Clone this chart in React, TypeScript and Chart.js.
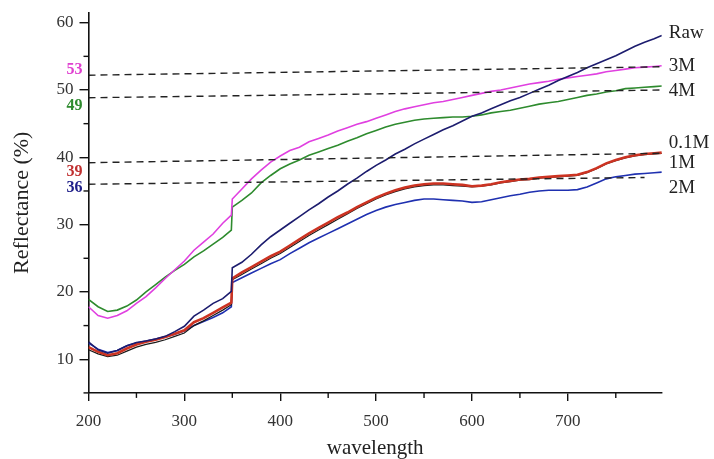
import React, { useEffect, useRef } from "react";
import { Chart, registerables } from "chart.js";

Chart.register(...registerables);

const wavelengths = [200,210,220,230,240,250,260,270,280,290,300,310,320,330,340,349,350,360,370,380,390,400,410,420,430,440,450,460,470,480,490,500,510,520,530,540,550,560,570,580,590,600,610,620,630,640,650,660,670,680,690,700,710,720,730,740,750,760,770,780,790,798];

const rawValues = [12.6,11.4,10.9,11.3,12.0,12.5,12.7,13.0,13.4,14.1,14.9,16.4,17.3,18.3,19.0,20.1,23.6,24.4,25.6,27.0,28.2,29.2,30.2,31.2,32.2,33.1,34.1,35.0,36.0,36.9,37.9,38.8,39.6,40.5,41.2,42.0,42.7,43.4,44.1,44.7,45.4,46.1,46.6,47.2,47.8,48.4,48.9,49.5,50.1,50.7,51.4,52.0,52.6,53.3,53.9,54.5,55.1,55.8,56.5,57.1,57.6,58.1];

const m3Values = [17.8,16.5,16.1,16.5,17.2,18.3,19.3,20.6,22.0,23.3,24.6,26.2,27.4,28.6,30.2,31.4,33.8,35.3,36.8,38.1,39.3,40.2,41.0,41.5,42.3,42.8,43.3,43.9,44.4,44.9,45.3,45.8,46.3,46.8,47.2,47.5,47.8,48.1,48.3,48.6,48.9,49.2,49.5,49.8,50.0,50.3,50.6,50.9,51.1,51.3,51.6,51.8,52.0,52.2,52.4,52.7,52.9,53.1,53.3,53.4,53.5,53.6];

const m4Values = [18.9,17.8,17.1,17.3,17.9,18.8,20.0,21.1,22.2,23.2,24.1,25.2,26.1,27.1,28.1,29.2,32.6,33.6,34.7,36.2,37.3,38.3,39.0,39.6,40.3,40.8,41.3,41.8,42.4,42.9,43.5,44.0,44.5,44.9,45.2,45.5,45.7,45.8,45.9,46.0,46.0,46.1,46.3,46.6,46.8,47.0,47.3,47.6,47.9,48.1,48.3,48.6,48.9,49.2,49.4,49.7,49.9,50.2,50.3,50.4,50.5,50.6];

const m01Values = [11.8,11.1,10.6,10.9,11.6,12.2,12.6,12.9,13.3,13.8,14.3,15.5,16.1,16.9,17.7,18.4,22.0,22.9,23.7,24.5,25.3,26.0,26.9,27.8,28.7,29.5,30.3,31.1,31.8,32.6,33.3,34.0,34.6,35.1,35.5,35.8,36.0,36.1,36.1,36.0,35.9,35.7,35.8,36.0,36.3,36.5,36.7,36.8,37.0,37.1,37.2,37.3,37.4,37.8,38.4,39.1,39.6,40.0,40.3,40.5,40.6,40.7];

const m1Values = [11.4,10.8,10.4,10.6,11.2,11.8,12.2,12.5,12.9,13.4,13.9,15.0,15.7,16.5,17.3,18.1,21.8,22.6,23.4,24.2,25.0,25.7,26.6,27.5,28.4,29.2,30.0,30.8,31.6,32.4,33.1,33.8,34.4,34.9,35.3,35.6,35.8,35.9,35.9,35.8,35.7,35.6,35.7,35.9,36.2,36.4,36.6,36.7,36.9,37.0,37.1,37.2,37.3,37.7,38.3,39.0,39.5,39.9,40.2,40.4,40.5,40.6];

const m2Values = [12.4,11.5,11.0,11.3,12.0,12.4,12.7,13.0,13.3,13.7,14.2,15.0,15.6,16.2,16.9,17.8,21.4,22.1,22.8,23.5,24.2,24.8,25.7,26.5,27.3,28.0,28.7,29.4,30.1,30.8,31.5,32.1,32.6,33.0,33.3,33.6,33.8,33.8,33.7,33.6,33.5,33.3,33.4,33.7,34.0,34.3,34.5,34.8,35.0,35.1,35.1,35.1,35.2,35.6,36.2,36.8,37.1,37.3,37.5,37.6,37.7,37.8];

const seriesNames = ["Raw", "3M", "4M", "0.1M", "1M", "2M"];
const seriesColors = ["#1c1c6e", "#e040e0", "#2e8b2e", "#cc3322", "#1a1a1a", "#1f30b0"];
const seriesWidths = [1.6, 1.6, 1.6, 2.6, 1.2, 1.6];

// dashed reference lines: [x0, y0, x1, y1]
const dashStartX = [200, 200, 200, 200];
const dashStartY = [52.2, 48.85, 39.2, 36.0];
const dashEndX = [798, 798, 798, 780];
const dashEndY = [53.45, 50.0, 40.6, 37.0];

// left annotation numbers
const leftLabels = ["53", "49", "39", "36"];
const leftLabelY = [53.0, 47.6, 37.9, 35.4];
const leftLabelColors = ["#e040d0", "#2e8b2e", "#c03030", "#20208a"];

// right series labels
const rightLabelY = [58.4, 53.6, 49.9, 42.1, 39.1, 35.4];

const yMajorTicks = [10, 20, 30, 40, 50, 60];
const yMinorTicks = [5, 15, 25, 35, 45, 55];
const xMajorTicks = [200, 300, 400, 500, 600, 700];
const xMinorTicks = [250, 350, 450, 550, 650, 750];

const SERIF = "'Liberation Serif', 'Times New Roman', serif";

export default function App() {
  const ref = useRef<HTMLCanvasElement | null>(null);

  useEffect(() => {
    const canvas = ref.current;
    if (!canvas) return;

    const curveSets = seriesNames.map((name, i) => {
      const vals = [rawValues, m3Values, m4Values, m01Values, m1Values, m2Values][i];
      return {
        label: name,
        data: wavelengths.map((w, k) => ({ x: w, y: vals[k] })),
        borderColor: seriesColors[i],
        backgroundColor: seriesColors[i],
        borderWidth: seriesWidths[i],
        pointRadius: 0,
        tension: 0,
        fill: false,
        order: 2,
      };
    });
    const dashSets = dashStartY.map((y0, i) => ({
      label: "dash" + i,
      data: [
        { x: dashStartX[i], y: y0 },
        { x: dashEndX[i], y: dashEndY[i] },
      ],
      borderColor: "#222",
      borderWidth: 1.4,
      borderDash: [7, 5],
      pointRadius: 0,
      fill: false,
      order: 1,
    }));

    const annot = {
      id: "annot",
      afterDatasetsDraw(chart: any) {
        const { ctx, chartArea, scales } = chart;
        const xs = scales.x;
        const ys = scales.y;
        ctx.save();
        ctx.strokeStyle = "#111";
        ctx.lineWidth = 1.4;
        // minor ticks
        yMinorTicks.forEach((v) => {
          const py = ys.getPixelForValue(v);
          ctx.beginPath();
          ctx.moveTo(chartArea.left - 5, py);
          ctx.lineTo(chartArea.left, py);
          ctx.stroke();
        });
        xMinorTicks.forEach((v) => {
          const px = xs.getPixelForValue(v);
          ctx.beginPath();
          ctx.moveTo(px, chartArea.bottom);
          ctx.lineTo(px, chartArea.bottom + 5);
          ctx.stroke();
        });
        // right labels
        ctx.font = `19px ${SERIF}`;
        ctx.fillStyle = "#222";
        ctx.textAlign = "left";
        ctx.textBaseline = "middle";
        seriesNames.forEach((n, i) => {
          ctx.fillText(n, chartArea.right + 7, ys.getPixelForValue(rightLabelY[i]));
        });
        // left labels
        ctx.font = `bold 16px ${SERIF}`;
        ctx.textAlign = "right";
        leftLabels.forEach((t, i) => {
          ctx.fillStyle = leftLabelColors[i];
          ctx.fillText(t, chartArea.left - 6, ys.getPixelForValue(leftLabelY[i]));
        });
        ctx.restore();
      },
    };

    const chart = new Chart(canvas, {
      type: "line",
      data: { datasets: [...dashSets, ...curveSets] as any },
      options: {
        animation: false,
        responsive: false,
        devicePixelRatio: 1,
        parsing: false as any,
        layout: { padding: { top: 12.6, right: 52.2, left: 0, bottom: 0 } },
        plugins: { legend: { display: false }, tooltip: { enabled: false } },
        scales: {
          x: {
            type: "linear",
            min: 200,
            max: 798,
            afterBuildTicks: (s: any) => {
              s.ticks = xMajorTicks.map((v) => ({ value: v }));
            },
            afterFit: (s: any) => {
              s.height = 459 - 392.9;
              s.paddingLeft = 0;
              s.paddingRight = 0;
            },
            grid: { drawOnChartArea: false, drawTicks: true, tickLength: 8, color: "#111", lineWidth: 1.4 },
            border: { display: true, color: "#111", width: 1.6 },
            ticks: {
              color: "#333",
              font: { family: SERIF, size: 17 },
              padding: 10,
              maxRotation: 0,
              autoSkip: false,
              callback: (v: any) => String(v),
            },
            title: {
              display: true,
              text: "wavelength",
              color: "#222",
              font: { family: SERIF, size: 21, lineHeight: 1 },
              padding: { top: 0, bottom: 0 },
            },
          },
          y: {
            type: "linear",
            min: 5,
            max: 61.5,
            afterBuildTicks: (s: any) => {
              s.ticks = yMajorTicks.map((v) => ({ value: v }));
            },
            afterFit: (s: any) => {
              s.width = 88.5;
              s.paddingTop = 0;
              s.paddingBottom = 0;
            },
            grid: { drawOnChartArea: false, drawTicks: true, tickLength: 9, color: "#111", lineWidth: 1.4 },
            border: { display: true, color: "#111", width: 1.6 },
            ticks: {
              color: "#333",
              font: { family: SERIF, size: 17 },
              padding: 6,
              autoSkip: false,
              callback: (v: any) => String(v),
            },
            title: {
              display: true,
              text: "Reflectance (%)",
              color: "#222",
              font: { family: SERIF, size: 22, lineHeight: 1.2 },
              padding: { top: 9, bottom: 0 },
            },
          },
        },
      },
      plugins: [annot],
    });

    return () => chart.destroy();
  }, []);

  return (
    <div style={{ position: "fixed", left: 0, top: 0, width: 714, height: 459, background: "#fff" }}>
      <canvas ref={ref} width={714} height={459} style={{ width: 714, height: 459, display: "block" }} />
    </div>
  );
}
